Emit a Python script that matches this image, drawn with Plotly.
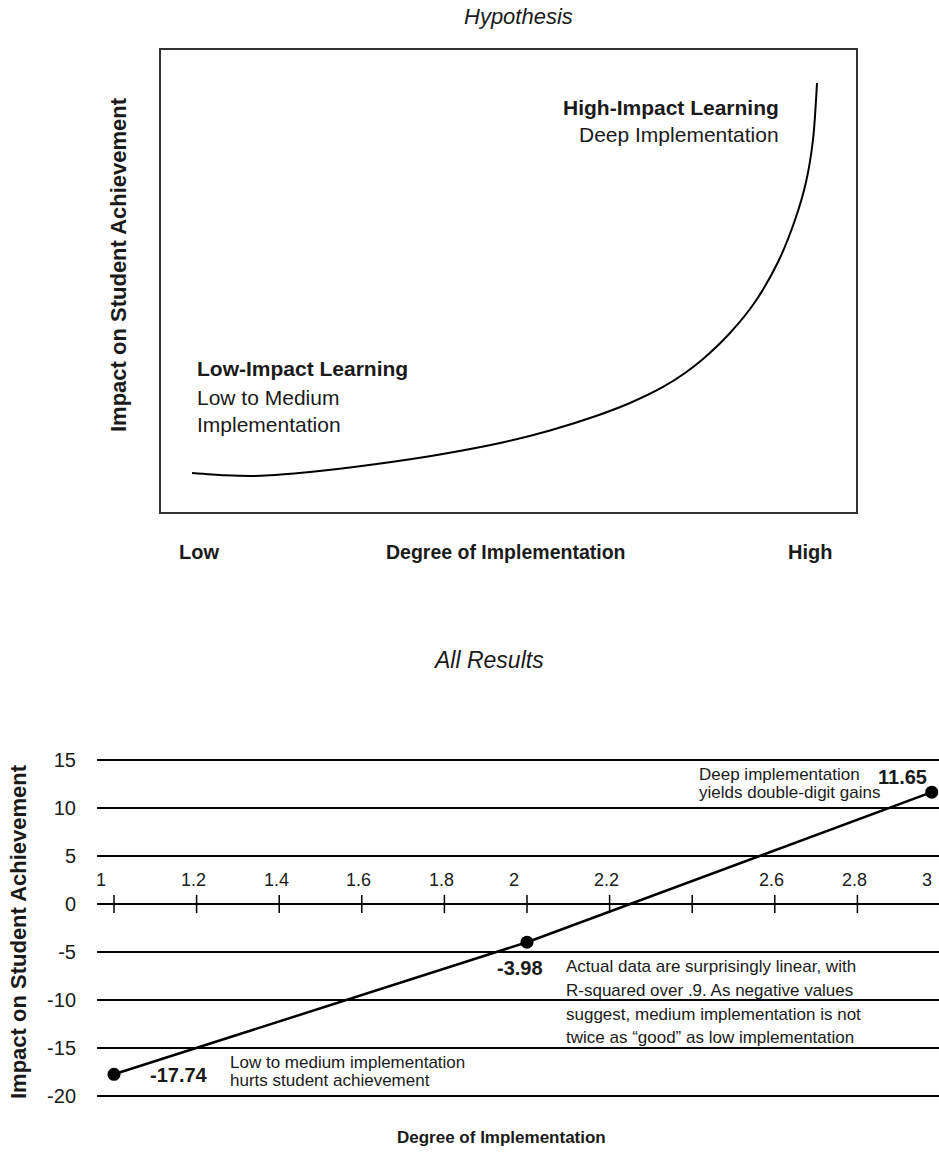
import plotly.graph_objects as go

W, H = 939, 1154
FONT = "Liberation Sans, Arial, Helvetica, sans-serif"

# ---------------- data ----------------
# Top panel: conceptual hypothesis curve (arbitrary 0-100 units)
hyp_x = [4.46, 9.21, 14.39, 21.44, 30.50, 40.14, 49.78, 55.97, 62.59, 67.48,
         72.23, 75.40, 77.99, 81.87, 85.47, 88.78, 91.22, 92.81, 93.81, 94.39]
hyp_y = [8.44, 7.94, 7.84, 8.66, 10.28, 12.45, 15.26, 17.64, 20.78, 23.59,
         27.06, 30.09, 33.12, 38.74, 45.45, 54.11, 63.20, 71.43, 80.52, 92.86]

# Bottom panel: actual results
impl_x = [1.0, 2.0, 2.98]
impact_y = [-17.74, -3.98, 11.65]
value_labels = ["-17.74", "-3.98", "11.65"]

x_tick_marks = [1.0, 1.2, 1.4, 1.6, 1.8, 2.0, 2.2, 2.4, 2.6, 2.8]
x_label_vals = [1.0, 1.2, 1.4, 1.6, 1.8, 2.0, 2.2, 2.6, 2.8, 3.0]
x_label_text = ["1", "1.2", "1.4", "1.6", "1.8", "2", "2.2", "2.6", "2.8", "3"]
y_tick_vals = [-20, -15, -10, -5, 0, 5, 10, 15]


def px(x):
    return x / W


def py(y):
    return 1 - y / H


# bottom axis geometry: 1.0 -> 114px, 3.0 -> 940px ; 0 -> 904px, 9.6 px/unit
X_ORIGIN_PX = 114.0
PPU_X = 413.0
x_lo = 1.0 - (X_ORIGIN_PX - 97) / PPU_X
x_hi = 1.0 + (939 - X_ORIGIN_PX) / PPU_X


def x2_to_paper(v):
    return px(X_ORIGIN_PX + (v - 1.0) * PPU_X)


fig = go.Figure()

# top curve
fig.add_trace(go.Scatter(
    x=hyp_x, y=hyp_y, mode="lines",
    line=dict(color="black", width=2, shape="spline", smoothing=0.8),
    xaxis="x", yaxis="y", hoverinfo="skip", showlegend=False))

# bottom: tick marks on zero line
fig.add_trace(go.Scatter(
    x=x_tick_marks, y=[0] * len(x_tick_marks), mode="markers",
    marker=dict(symbol="line-ns", size=13, line=dict(color="black", width=1.5)),
    xaxis="x2", yaxis="y2", hoverinfo="skip", showlegend=False))

# bottom: data line
fig.add_trace(go.Scatter(
    x=impl_x, y=impact_y, mode="lines+markers",
    line=dict(color="black", width=2.5),
    marker=dict(color="black", size=13),
    cliponaxis=False,
    xaxis="x2", yaxis="y2", showlegend=False))

ann = []


def text(x, y, t, size, bold=False, italic=False, anchor="center", angle=0):
    if bold:
        t = "<b>" + t + "</b>"
    if italic:
        t = "<i>" + t + "</i>"
    ann.append(dict(x=px(x), y=py(y), xref="paper", yref="paper", text=t,
                    showarrow=False, xanchor=anchor, yanchor="middle",
                    textangle=angle,
                    font=dict(family=FONT, size=size, color="#1a1a1a")))


# ---- top panel texts ----
text(518, 17, "Hypothesis", 22, italic=True)
text(781, 107, "High-Impact Learning", 21, bold=True, anchor="right")
text(781, 134, "Deep Implementation", 21, anchor="right")
text(195, 369, "Low-Impact Learning", 21, bold=True, anchor="left")
text(195, 397, "Low to Medium", 21, anchor="left")
text(195, 424, "Implementation", 21, anchor="left")
text(199, 552, "Low", 20, bold=True)
text(505, 552, "Degree of Implementation", 19.5, bold=True)
text(810, 552, "High", 20, bold=True)
text(118, 265, "Impact on Student Achievement", 22, bold=True, angle=-90)

# ---- bottom panel texts ----
text(488, 660, "All Results", 23, italic=True)
text(18, 932, "Impact on Student Achievement", 22, bold=True, angle=-90)
text(501, 1137, "Degree of Implementation", 17, bold=True)
text(697, 774, "Deep implementation", 17, anchor="left")
text(697, 792, "yields double-digit gains", 17, anchor="left")
text(564, 966, "Actual data are surprisingly linear, with", 17, anchor="left")
text(564, 990, "R-squared over .9. As negative values", 17, anchor="left")
text(564, 1014, "suggest, medium implementation is not", 17, anchor="left")
text(564, 1037, "twice as \u201cgood\u201d as low implementation", 17, anchor="left")
text(228, 1062, "Low to medium implementation", 17, anchor="left")
text(228, 1080, "hurts student achievement", 17, anchor="left")

# value labels next to the points
shifts = [(65, -1), (-7, -26), (-29, 15)]
for xv, yv, lab, (dx, dy) in zip(impl_x, impact_y, value_labels, shifts):
    ann.append(dict(x=xv, y=yv, xref="x2", yref="y2", text="<b>" + lab + "</b>",
                    showarrow=False, xshift=dx, yshift=dy,
                    font=dict(family=FONT, size=20, color="#1a1a1a")))

# x tick labels above the zero line
for xv, lab in zip(x_label_vals, x_label_text):
    ann.append(dict(x=x2_to_paper(xv), y=2.5, xref="paper", yref="y2", text=lab,
                    showarrow=False, xanchor="center",
                    xshift=(-13 if "." not in lab else -3),
                    font=dict(family=FONT, size=18, color="#1a1a1a")))

fig.update_layout(
    width=W, height=H, autosize=False,
    margin=dict(l=0, r=0, t=0, b=0),
    paper_bgcolor="white", plot_bgcolor="white",
    showlegend=False,
    font=dict(family=FONT, color="#1a1a1a"),
    annotations=ann,
    xaxis=dict(domain=[px(161), px(856)], range=[0, 100], showgrid=False,
               zeroline=False, showticklabels=False, ticks="",
               showline=True, mirror=True, linecolor="#333", linewidth=1.5,
               anchor="y", fixedrange=True),
    yaxis=dict(domain=[py(512), py(50)], range=[0, 100], showgrid=False,
               zeroline=False, showticklabels=False, ticks="",
               showline=True, mirror=True, linecolor="#333", linewidth=1.5,
               anchor="x", fixedrange=True),
    xaxis2=dict(domain=[px(97), 1.0], range=[x_lo, x_hi], showgrid=False,
                zeroline=False, showticklabels=False, ticks="", showline=False,
                anchor="y2", fixedrange=True),
    yaxis2=dict(domain=[py(1115.2), py(745.6)], range=[-22, 16.5],
                tickvals=y_tick_vals, ticktext=[str(v) for v in y_tick_vals],
                showgrid=True, gridcolor="black", gridwidth=1.8,
                zeroline=True, zerolinecolor="black", zerolinewidth=1.8,
                showline=False, ticks="", ticklabelstandoff=20,
                tickfont=dict(family=FONT, size=20, color="#1a1a1a"),
                anchor="x2", fixedrange=True),
)

fig.write_html(
    "out.html",
    config={"displayModeBar": False},
    post_script="document.body.style.margin='0';document.body.style.overflow='hidden';",
)
